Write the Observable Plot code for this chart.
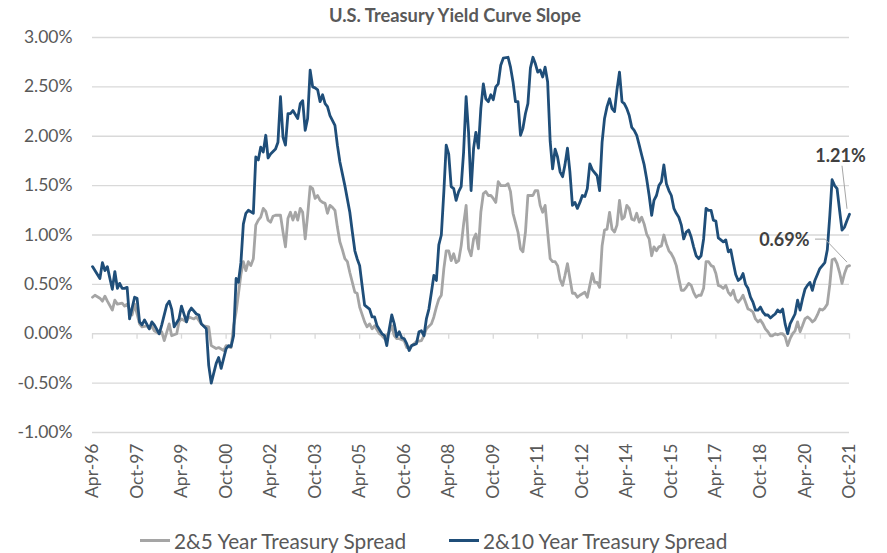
<!DOCTYPE html>
<html>
<head>
<meta charset="utf-8">
<script src="https://cdn.jsdelivr.net/npm/d3@7"></script>
<script src="https://cdn.jsdelivr.net/npm/@observablehq/plot@0.6"></script>
<style>
  html, body { margin: 0; padding: 0; background: #fff; }
  #wrap { position: relative; width: 887px; height: 553px; font-family: Lato, "Open Sans", sans-serif; }
  #wrap svg { position: absolute; left: 0; top: 0; }
  #title { position: absolute; left: 0; width: 910px; top: 4px; text-align: center; font-weight: bold; font-size: 18.3px; color: #595959; }
  .leg { position: absolute; top: 528px; font-size: 20.8px; color: #595959; display: flex; align-items: center; white-space: nowrap; }
  .sw { display: inline-block; width: 30px; height: 3px; margin-right: 4px; }
</style>
</head>
<body>
<div id="wrap">
  <div id="title">U.S. Treasury Yield Curve Slope</div>
  <div class="leg" style="left:140px"><span class="sw" style="background:#A5A5A5"></span>2&amp;5 Year Treasury Spread</div>
  <div class="leg" style="left:449px"><span class="sw" style="background:#1F4E79"></span>2&amp;10 Year Treasury Spread</div>
</div>
<script>
// Month offsets from Apr-1996, spread in %
const startMonth = [1996, 3];
const seriesNames = ["2&5 Year Treasury Spread", "2&10 Year Treasury Spread"];
const xTickMonths = d3.range(0, 307, 18); // Apr-96 ... Oct-21
const yTicks = [-1, -0.5, 0, 0.5, 1, 1.5, 2, 2.5, 3];

const spread2s5s = [[0,0.37],[1,0.39],[3,0.36],[4,0.33],[5,0.38],[6,0.33],[8,0.24],[9,0.34],[10,0.30],[12,0.31],[13,0.28],[14,0.30],[16,0.19],[17,0.30],[19,0.10],[20,0.07],[22,0.08],[23,0.05],[24,0.08],[25,0.03],[27,0.0],[28,0.02],[29,-0.07],[31,0.10],[32,-0.02],[34,0.0],[35,0.12],[36,0.15],[38,0.12],[39,0.17],[41,0.15],[42,0.17],[44,0.10],[45,0.08],[47,0.07],[48,-0.12],[50,-0.15],[51,-0.14],[53,-0.17],[54,-0.12],[56,-0.14],[57,0.08],[58,0.22],[59,0.40],[60,0.60],[61,0.73],[62,0.64],[63,0.73],[64,0.69],[65,0.76],[66,1.10],[67,1.15],[68,1.18],[69,1.27],[70,1.24],[71,1.15],[72,1.13],[73,1.19],[74,1.20],[75,1.20],[76,1.20],[77,1.03],[78,0.88],[79,1.17],[80,1.23],[81,1.15],[82,1.23],[83,1.15],[84,1.27],[85,1.23],[86,0.96],[87,1.20],[88,1.49],[89,1.47],[90,1.37],[91,1.40],[92,1.35],[93,1.33],[94,1.32],[95,1.22],[96,1.30],[97,1.28],[98,1.25],[99,1.08],[100,0.93],[101,0.85],[102,0.76],[103,0.73],[104,0.62],[106,0.42],[107,0.41],[108,0.27],[110,0.12],[111,0.07],[112,0.10],[113,0.05],[114,0.08],[116,0.0],[117,-0.02],[118,-0.05],[120,0.02],[121,0.08],[122,-0.02],[123,-0.05],[124,-0.05],[126,-0.07],[127,-0.14],[128,-0.14],[130,-0.10],[131,-0.08],[133,-0.07],[134,-0.02],[135,0.05],[137,0.10],[138,0.17],[139,0.27],[140,0.35],[141,0.39],[142,0.66],[143,0.84],[144,0.84],[145,0.74],[146,0.81],[147,0.72],[148,0.74],[149,0.89],[150,1.11],[151,1.30],[152,0.86],[153,0.79],[154,0.96],[155,1.01],[156,0.86],[157,1.23],[158,1.42],[159,1.44],[160,1.40],[161,1.40],[162,1.37],[163,1.33],[164,1.54],[165,1.50],[166,1.50],[167,1.50],[168,1.52],[169,1.44],[170,1.22],[172,1.03],[173,0.86],[174,0.83],[175,1.03],[176,1.40],[177,1.40],[178,1.40],[179,1.45],[180,1.45],[181,1.30],[182,1.23],[183,1.30],[184,1.03],[185,0.76],[186,0.73],[187,0.73],[188,0.69],[189,0.55],[190,0.49],[191,0.59],[192,0.71],[193,0.56],[194,0.41],[195,0.41],[196,0.37],[197,0.39],[199,0.42],[200,0.37],[201,0.49],[202,0.61],[203,0.52],[204,0.52],[205,0.47],[206,0.89],[207,1.05],[208,1.06],[209,1.23],[210,1.06],[211,1.03],[212,1.10],[213,1.35],[214,1.16],[215,1.18],[216,1.30],[217,1.27],[218,1.16],[219,1.15],[220,1.22],[221,1.13],[222,1.18],[223,1.11],[224,1.01],[225,0.96],[226,0.79],[227,0.88],[228,0.84],[229,0.88],[230,0.89],[231,1.0],[232,0.91],[233,0.84],[234,0.81],[235,0.76],[236,0.69],[237,0.56],[238,0.44],[239,0.44],[240,0.47],[241,0.51],[242,0.49],[243,0.42],[244,0.37],[245,0.39],[246,0.39],[247,0.46],[248,0.73],[249,0.73],[250,0.69],[251,0.68],[252,0.61],[253,0.49],[254,0.48],[255,0.46],[256,0.49],[257,0.42],[258,0.39],[259,0.44],[260,0.35],[261,0.32],[262,0.35],[263,0.39],[264,0.32],[265,0.25],[266,0.24],[267,0.22],[268,0.15],[269,0.12],[270,0.14],[271,0.10],[272,0.05],[273,0.02],[274,-0.02],[275,-0.02],[276,0.0],[277,-0.01],[278,0.0],[279,0.0],[280,-0.03],[281,-0.12],[282,-0.05],[283,0.0],[284,0.03],[285,0.12],[286,0.02],[287,0.08],[288,0.15],[289,0.17],[290,0.15],[291,0.12],[292,0.14],[293,0.19],[294,0.25],[295,0.24],[296,0.26],[297,0.30],[298,0.50],[299,0.75],[300,0.76],[301,0.71],[302,0.62],[303,0.51],[304,0.61],[305,0.68],[306,0.69]];

const spread2s10s = [[0,0.68],[3,0.56],[4,0.72],[5,0.64],[6,0.68],[7,0.56],[8,0.45],[9,0.63],[10,0.46],[11,0.51],[12,0.46],[13,0.46],[14,0.47],[15,0.15],[17,0.37],[18,0.36],[19,0.12],[20,0.09],[21,0.14],[23,0.05],[24,0.12],[25,0.09],[27,0.0],[28,0.09],[30,0.29],[31,0.33],[32,0.25],[33,0.07],[35,0.15],[36,0.28],[38,0.12],[39,0.22],[40,0.26],[42,0.20],[43,0.19],[44,0.10],[46,0.05],[47,-0.32],[48,-0.50],[50,-0.30],[51,-0.24],[52,-0.35],[54,-0.15],[55,-0.12],[56,-0.13],[57,-0.02],[58,0.56],[59,0.52],[60,0.72],[61,1.11],[62,1.22],[63,1.25],[65,1.22],[66,1.79],[67,1.76],[68,1.89],[69,1.84],[70,2.01],[71,1.78],[72,1.82],[74,1.87],[75,1.94],[76,2.40],[77,1.99],[78,1.91],[79,2.23],[80,2.23],[81,2.26],[83,2.18],[84,2.33],[85,2.36],[86,2.06],[87,2.18],[88,2.67],[89,2.50],[90,2.49],[91,2.47],[92,2.35],[93,2.42],[94,2.33],[95,2.30],[96,2.21],[98,2.11],[99,1.91],[100,1.74],[102,1.50],[104,1.23],[105,1.03],[106,0.84],[107,0.76],[108,0.69],[109,0.49],[110,0.29],[112,0.25],[113,0.17],[114,0.17],[115,0.08],[117,0.0],[118,-0.02],[119,-0.12],[120,0.05],[121,0.19],[122,0.10],[123,-0.03],[124,0.02],[125,-0.04],[126,-0.05],[127,-0.10],[128,-0.17],[129,-0.12],[131,-0.10],[132,0.02],[133,0.03],[134,-0.02],[135,0.15],[136,0.25],[137,0.42],[138,0.59],[139,0.54],[140,0.90],[141,1.0],[142,1.44],[143,1.91],[144,1.82],[145,1.49],[146,1.47],[147,1.35],[148,1.44],[149,1.49],[150,1.84],[151,2.40],[152,2.04],[153,1.45],[154,1.88],[155,2.04],[156,1.88],[157,2.28],[158,2.53],[159,2.38],[160,2.35],[161,2.42],[162,2.37],[163,2.50],[164,2.53],[165,2.72],[166,2.79],[168,2.80],[169,2.70],[170,2.55],[171,2.35],[172,2.35],[173,2.01],[174,2.08],[175,2.23],[176,2.33],[177,2.69],[178,2.80],[179,2.74],[180,2.65],[181,2.67],[182,2.60],[183,2.70],[184,2.55],[185,1.95],[186,1.67],[187,1.87],[188,1.79],[189,1.64],[190,1.59],[191,1.71],[192,1.88],[193,1.64],[194,1.30],[195,1.33],[196,1.27],[197,1.33],[198,1.40],[199,1.39],[200,1.47],[201,1.72],[202,1.66],[204,1.60],[205,1.45],[206,1.94],[207,2.18],[208,2.30],[209,2.38],[210,2.28],[211,2.25],[212,2.47],[213,2.65],[214,2.35],[215,2.33],[216,2.28],[217,2.21],[218,2.09],[219,2.06],[220,2.01],[221,1.91],[222,1.81],[223,1.71],[224,1.57],[225,1.40],[226,1.20],[227,1.35],[228,1.40],[229,1.50],[230,1.54],[231,1.71],[232,1.52],[233,1.45],[234,1.40],[235,1.27],[236,1.22],[237,1.18],[238,1.10],[239,0.96],[240,1.03],[241,1.05],[242,0.98],[243,0.88],[244,0.79],[245,0.76],[246,0.79],[247,0.96],[248,1.27],[249,1.25],[250,1.25],[251,1.15],[252,1.14],[253,0.97],[254,0.95],[255,0.93],[256,0.95],[257,0.83],[258,0.85],[259,0.72],[260,0.60],[261,0.54],[262,0.56],[263,0.61],[264,0.50],[265,0.46],[266,0.37],[267,0.32],[268,0.24],[269,0.24],[270,0.27],[271,0.22],[272,0.19],[273,0.19],[274,0.16],[275,0.18],[276,0.20],[277,0.24],[278,0.22],[279,0.25],[280,0.10],[281,0.0],[282,0.10],[283,0.15],[284,0.20],[285,0.34],[286,0.24],[287,0.35],[288,0.45],[289,0.49],[290,0.52],[291,0.44],[292,0.54],[293,0.60],[294,0.66],[295,0.69],[296,0.72],[297,0.85],[298,1.20],[299,1.56],[300,1.50],[301,1.47],[302,1.25],[303,1.05],[304,1.08],[305,1.15],[306,1.21]];

const colors = ["#A5A5A5", "#1F4E79"];

const start = new Date(Date.UTC(startMonth[0], startMonth[1], 1));
const toDate = m => d3.utcMonth.offset(start, m);
const rows = [];
for (const [m, v] of spread2s5s) rows.push({date: toDate(m), value: v, series: seriesNames[0]});
for (const [m, v] of spread2s10s) rows.push({date: toDate(m), value: v, series: seriesNames[1]});
const last5 = rows.filter(d => d.series === seriesNames[0]).at(-1);
const last10 = rows.filter(d => d.series === seriesNames[1]).at(-1);
const fmt = d3.utcFormat("%b-%y");

function leader(pt, pts, color) {
  return (index, scales) => {
    const x0 = scales.x(pt.date), y0 = scales.y(pt.value);
    const p = d3.path();
    p.moveTo(x0 + pts[0][0], y0 + pts[0][1]);
    for (const [dx, dy] of pts.slice(1)) p.lineTo(x0 + dx, y0 + dy);
    const el = document.createElementNS("http://www.w3.org/2000/svg", "path");
    el.setAttribute("d", p.toString());
    el.setAttribute("fill", "none");
    el.setAttribute("stroke", color);
    el.setAttribute("stroke-width", "1");
    return el;
  };
}

const chart = Plot.plot({
  width: 887,
  height: 553,
  marginTop: 37,
  marginBottom: 121,
  marginLeft: 92,
  marginRight: 38,
  style: {fontFamily: "Lato, 'Open Sans', sans-serif", background: "#fff"},
  x: {type: "utc", domain: [toDate(0), toDate(306)]},
  y: {domain: [-1, 3]},
  color: {domain: seriesNames, range: colors},
  marks: [
    Plot.gridY(yTicks, {stroke: "#d9d9d9", strokeOpacity: 1, strokeWidth: 1.3}),
    Plot.ruleX(xTickMonths.map(toDate), {x: d => d, y1: 0, y2: -0.055, stroke: "#d9d9d9", strokeWidth: 1.3}),
    Plot.axisY(yTicks, {tickSize: 0, tickPadding: 20, tickFormat: d => d.toFixed(2) + "%", fontSize: 17.5, fill: "#595959", label: null}),
    Plot.axisX(xTickMonths.map(toDate), {anchor: "bottom", tickSize: 0, tickPadding: 11, tickRotate: -90, tickFormat: fmt, fontSize: 17.5, fill: "#595959", label: null}),
    Plot.line(rows, {x: "date", y: "value", z: "series", stroke: "series", strokeWidth: 2.8, strokeLinejoin: "round"}),
    leader(last10, [[-2, -5], [-7, -48]], "#a6a6a6"),
    leader(last5, [[-2, -3], [-24, -26], [-34, -26]], "#a6a6a6"),
    Plot.text([last10], {x: "date", y: "value", text: d => d.value.toFixed(2) + "%", dx: -9, dy: -58, textAnchor: "middle", fontSize: 18, fontWeight: "bold", fill: "#404040"}),
    Plot.text([last5], {x: "date", y: "value", text: d => d.value.toFixed(2) + "%", dx: -40, dy: -25, textAnchor: "end", fontSize: 18, fontWeight: "bold", fill: "#404040"})
  ]
});
document.getElementById("wrap").prepend(chart);
</script>
</body>
</html>
